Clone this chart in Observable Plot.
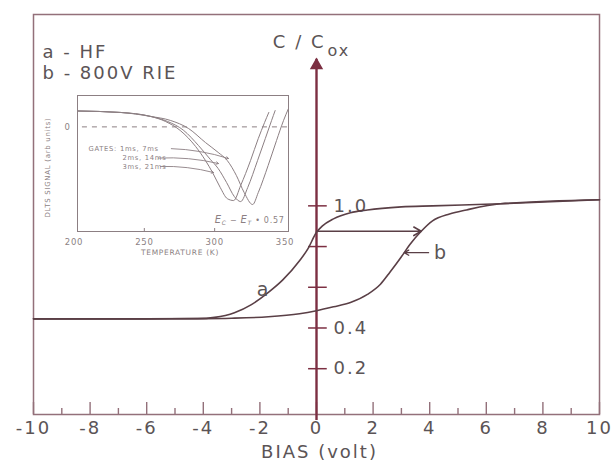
<!DOCTYPE html>
<html><head><meta charset="utf-8">
<script src="https://cdn.jsdelivr.net/npm/d3@7"></script>
<script src="https://cdn.jsdelivr.net/npm/@observablehq/plot@0.6"></script>
<style>
body{margin:0;background:#fff;}
#wrap{position:relative;width:616px;height:465px;overflow:hidden;background:#fff;}
#wrap svg.inset{position:absolute;left:30px;top:85px;}
#wrap svg.main{position:absolute;left:0;top:0;}
svg.main text{letter-spacing:2px;}
svg.inset text{letter-spacing:0.7px;}
</style></head><body><div id="wrap"></div>
<script>
// ---- main C-V data (bias in volt, C/Cox) ----
const biasA = [-10, -6, -4.2, -3.6, -2.9, -2.3, -1.7, -1.2, -0.6, -0.3, 0, 0.2, 0.6, 1.2, 1.8, 3.0, 4.1, 6.5, 10];
const capA  = [0.445, 0.445, 0.446, 0.452, 0.475, 0.515, 0.575, 0.635, 0.73, 0.79, 0.87, 0.9, 0.936, 0.966, 0.98, 0.995, 1.0, 1.01, 1.03];
const biasB = [-10, -6, -4, -3, -1.7, -0.6, 0, 0.6, 1.2, 1.8, 2.26, 2.6, 3.0, 3.3, 3.7, 4.1, 4.7, 5.3, 6.5, 10];
const capB  = [0.445, 0.445, 0.446, 0.448, 0.455, 0.47, 0.485, 0.504, 0.525, 0.565, 0.615, 0.675, 0.75, 0.81, 0.875, 0.926, 0.96, 0.98, 1.01, 1.03];
const sweepBias = [0, 3.7];
const sweepCap = [0.875];
const pointerBias = [3.96, 3.1];
const pointerCap = [0.77];
const xMajorTicks = [-10, -8, -6, -4, -2, 0, 2, 4, 6, 8, 10];
const xMinorTicks = [-9, -7, -5, -3, -1, 1, 3, 5, 7, 9];
const yTicks = [0.2, 0.4, 0.6, 0.8, 1.0];
const yTickLabels = [0.2, 0.4, 1.0];
const yAxisTop = [1.72];
const curveLabels = ["a", "b"];
const curveLabelBias = [-1.87, 4.4];
const curveLabelCap = [0.587, 0.77];
const legendLines = ["a - HF", "b - 800V RIE"];

// ---- inset DLTS data (temperature K, signal arb. units) ----
const tGate1 = [202.5, 233, 254.5, 268.5, 281.5, 293.5, 302.5, 309, 315.5, 321, 327, 331, 338, 344, 349, 352.5];
const sGate1 = [0.76, 0.69, 0.5, 0.31, -0.08, -0.75, -1.22, -1.61, -2.33, -3.14, -3.71, -3.14, -1.85, -0.65, 0.31, 0.88];
const tGate2 = [202.5, 233, 254.5, 266.5, 278, 288.5, 297, 302.5, 308.5, 314, 318.5, 323.5, 330.5, 336, 340.5, 343];
const sGate2 = [0.76, 0.69, 0.5, 0.26, -0.17, -0.89, -1.56, -1.99, -2.66, -3.33, -3.57, -2.9, -1.61, -0.56, 0.31, 0.78];
const tGate3 = [202.5, 233, 254.5, 265, 275.5, 286.5, 293.5, 298.5, 304, 309, 313.5, 318.5, 325.5, 331, 335.5, 338.5];
const sGate3 = [0.76, 0.69, 0.5, 0.26, -0.17, -0.94, -1.61, -2.18, -2.9, -3.43, -3.52, -2.8, -1.61, -0.56, 0.21, 0.69];
const gateLabels = ["GATES: 1ms, 7ms", "2ms, 14ms", "3ms, 21ms"];
const gateLabelT = [210.3, 234.5, 234.5];
const gateLabelS = [-1.06, -1.49, -1.91];
const gateArrowT1 = [269.2, 260, 261.5];
const gateArrowS1 = [-1.04, -1.49, -1.89];
const gateArrowT2 = [309.8, 302.7, 299.2];
const gateArrowS2 = [-1.51, -1.75, -2.18];
const insetXTicks = [200, 250, 300, 350];
const insetInnerTicks = [250, 300];

const FONT = "'DejaVu Sans', sans-serif";
const ink = "#5b5456";
const axisRed = "#7c2f42";
const frameInk = "#93707a";
const curveInk = "#5a3f46";
const insetInk = "#8c7f83";

const lineA = biasA.map((x, i) => ({x, y: capA[i]}));
const lineB = biasB.map((x, i) => ({x, y: capB[i]}));
const sweep = [{x1: sweepBias[0], x2: sweepBias[1], y: sweepCap[0]}];
const pointer = [{x1: pointerBias[0], x2: pointerBias[1], y: pointerCap[0]}];
const labels = curveLabels.map((t, i) => ({t, x: curveLabelBias[i], y: curveLabelCap[i]}));

const main = Plot.plot({
  className: "main",
  width: 616, height: 465,
  marginLeft: 33, marginRight: 17, marginTop: 14, marginBottom: 51,
  style: {fontFamily: FONT, background: "transparent", color: ink},
  x: {domain: [-10, 10], axis: null},
  y: {domain: [-0.025, 1.94], axis: null},
  marks: [
    Plot.frame({stroke: frameInk, strokeWidth: 1.5}),
    Plot.ruleX(xMajorTicks, {stroke: frameInk, strokeWidth: 1.4, insetTop: 388}),
    Plot.ruleX(xMinorTicks, {stroke: frameInk, strokeWidth: 1.4, insetTop: 394}),
    Plot.text(xMajorTicks, {x: d => d, frameAnchor: "bottom", dy: 14, text: d => String(d), fontSize: 18, fill: ink, lineAnchor: "middle"}),
    Plot.text(["BIAS (volt)"], {frameAnchor: "bottom", dy: 38, fontSize: 18, fill: ink, lineAnchor: "middle", dx: 3}),
    Plot.ruleX([0], {y1: -0.025, y2: yAxisTop[0], stroke: axisRed, strokeWidth: 2.4, insetTop: 6}),
    Plot.dot(yAxisTop, {x: 0, y: d => d, symbol: "triangle", r: 4, fill: axisRed, stroke: axisRed, dy: 6}),
    Plot.ruleY(yTicks, {x1: -0.28, x2: 0.38, stroke: axisRed, strokeWidth: 1.5}),
    Plot.text(yTickLabels, {x: 0, y: d => d, text: d => d.toFixed(1), dx: 17, textAnchor: "start", fontSize: 18, fill: ink}),
    Plot.line(lineA, {x: "x", y: "y", curve: "monotone-x", stroke: curveInk, strokeWidth: 1.6}),
    Plot.line(lineB, {x: "x", y: "y", curve: "monotone-x", stroke: curveInk, strokeWidth: 1.6}),
    Plot.arrow(sweep, {x1: "x1", x2: "x2", y1: "y", y2: "y", stroke: curveInk, strokeWidth: 1.6, headLength: 8}),
    Plot.arrow(pointer, {x1: "x1", x2: "x2", y1: "y", y2: "y", stroke: curveInk, strokeWidth: 1.3, headLength: 6}),
    Plot.text(labels, {x: "x", y: "y", text: "t", fontSize: 19, fill: ink}),
    Plot.text([legendLines[0]], {frameAnchor: "top-left", dx: 9, dy: 38, textAnchor: "start", lineAnchor: "middle", fontSize: 18, fill: ink}),
    Plot.text([legendLines[1]], {frameAnchor: "top-left", dx: 9, dy: 59, textAnchor: "start", lineAnchor: "middle", fontSize: 18, fill: ink}),
    Plot.text(["C / C"], {x: 0, frameAnchor: "top", dy: 28, dx: 9, textAnchor: "end", lineAnchor: "middle", fontSize: 18, fill: ink}),
    Plot.text(["ox"], {x: 0, frameAnchor: "top", dy: 36, dx: 11, textAnchor: "start", lineAnchor: "middle", fontSize: 16, fill: ink})
  ]
});

const g1 = tGate1.map((x, i) => ({x, y: sGate1[i]}));
const g2 = tGate2.map((x, i) => ({x, y: sGate2[i]}));
const g3 = tGate3.map((x, i) => ({x, y: sGate3[i]}));
const gLab = gateLabels.map((t, i) => ({t, x: gateLabelT[i], y: gateLabelS[i]}));
const gArr = gateArrowT1.map((x1, i) => ({x1, y1: gateArrowS1[i], x2: gateArrowT2[i], y2: gateArrowS2[i]}));

const inset = Plot.plot({
  className: "inset",
  width: 270, height: 180,
  marginLeft: 47, marginRight: 12, marginTop: 10, marginBottom: 34,
  style: {fontFamily: FONT, background: "transparent", color: insetInk},
  x: {domain: [202.5, 352.5], axis: null},
  y: {domain: [-5, 1.5], axis: null},
  marks: [
    Plot.frame({stroke: insetInk, strokeWidth: 1}),
    Plot.ruleY([0], {x1: 206, x2: 352.5, stroke: insetInk, strokeDasharray: "5,5", strokeWidth: 1}),
    Plot.ruleX(insetInnerTicks, {stroke: insetInk, insetTop: 133}),
    Plot.text(insetXTicks, {x: d => d, frameAnchor: "bottom", dy: 11, text: d => String(d), fontSize: 8.5, fill: insetInk, lineAnchor: "middle"}),
    Plot.text(["0"], {frameAnchor: "left", y: 0, dx: -7, textAnchor: "end", fontSize: 8.5, fill: insetInk}),
    Plot.text(["TEMPERATURE (K)"], {frameAnchor: "bottom", dy: 21, fontSize: 7.5, fill: insetInk, lineAnchor: "middle", dx: -3}),
    Plot.text(["DLTS SIGNAL (arb units)"], {frameAnchor: "left", rotate: -90, textAnchor: "middle", dx: -30, dy: 4, fontSize: 7, fill: insetInk}),
    Plot.line(g1, {x: "x", y: "y", curve: "monotone-x", stroke: insetInk, strokeWidth: 1}),
    Plot.line(g2, {x: "x", y: "y", curve: "monotone-x", stroke: insetInk, strokeWidth: 1}),
    Plot.line(g3, {x: "x", y: "y", curve: "monotone-x", stroke: insetInk, strokeWidth: 1}),
    Plot.text(gLab, {x: "x", y: "y", text: "t", textAnchor: "start", fontSize: 6.8, fill: insetInk}),
    Plot.arrow(gArr, {x1: "x1", y1: "y1", x2: "x2", y2: "y2", stroke: insetInk, strokeWidth: 0.9, headLength: 4, bend: 8}),
    Plot.text(["EC - ET = 0.57"], {frameAnchor: "bottom-right", dx: -4, dy: -9, textAnchor: "end", fontSize: 8, fill: insetInk})
  ]
});

// subscript rendering for E_C - E_T
d3.select(inset).selectAll("text").filter(function () { return this.textContent === "EC - ET = 0.57"; })
  .each(function () {
    const t = d3.select(this); t.text("");
    t.append("tspan").attr("font-style", "italic").attr("font-size", 10).text("E");
    t.append("tspan").attr("font-style", "italic").attr("font-size", 6).attr("dy", 2).text("C");
    t.append("tspan").attr("dy", -2).text(" \u2212 ");
    t.append("tspan").attr("font-style", "italic").attr("font-size", 10).text("E");
    t.append("tspan").attr("font-style", "italic").attr("font-size", 6).attr("dy", 2).text("T");
    t.append("tspan").attr("dy", -2).text(" \u2022 0.57");
  });

const wrap = document.getElementById("wrap");
wrap.appendChild(main);
wrap.appendChild(inset);
</script></body></html>
